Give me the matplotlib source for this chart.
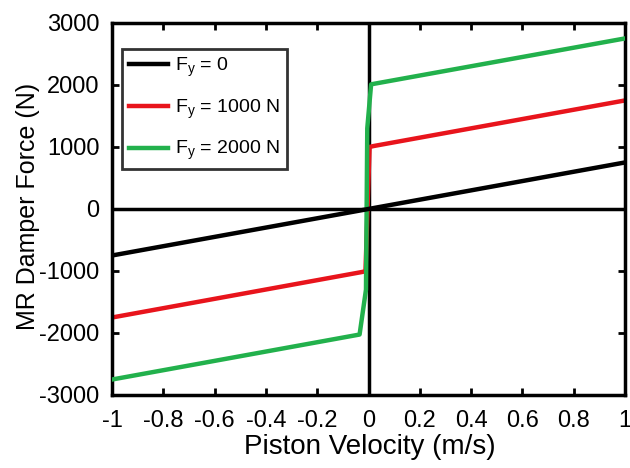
import matplotlib
matplotlib.use("Agg")
import matplotlib.pyplot as plt
import numpy as np

plt.rcParams['font.family'] = ['Liberation Sans', 'DejaVu Sans']
plt.rcParams['mathtext.fontset'] = 'custom'
plt.rcParams['mathtext.rm'] = 'Liberation Sans'
plt.rcParams['mathtext.it'] = 'Liberation Sans'
plt.rcParams['axes.unicode_minus'] = False

# piecewise points (velocity m/s, force N)
v_fy0 = [-1.0, 1.0]
f_fy0 = [-750, 750]

v_fy1000 = [-1.0, -0.03, -0.012, 0.004, 0.02, 1.0]
f_fy1000 = [-1750, -1020, -1005, 1000, 1015, 1750]

v_fy2000 = [-1.0, -0.035, -0.01, -0.005, 0.01, 1.0]
f_fy2000 = [-2750, -2025, -1300, 1300, 2010, 2750]

labels = [r'$\mathregular{F_y}$ = 0', r'$\mathregular{F_y}$ = 1000 N',
          r'$\mathregular{F_y}$ = 2000 N']
colors = ['#000000', '#e8141c', '#22b14c']

xticks = [-1, -0.8, -0.6, -0.4, -0.2, 0, 0.2, 0.4, 0.6, 0.8, 1]
xticklabels = ['-1', '-0.8', '-0.6', '-0.4', '-0.2', '0', '0.2', '0.4', '0.6', '0.8', '1']
yticks = [-3000, -2000, -1000, 0, 1000, 2000, 3000]

fig = plt.figure(figsize=(6.3, 4.68), dpi=100)
ax = fig.add_axes([0.178, 0.156, 0.814, 0.795])

# axis cross lines
ax.axhline(0, color='black', lw=2.5, zorder=1)
ax.axvline(0, color='black', lw=2.5, zorder=1)

ax.plot(v_fy0, f_fy0, color=colors[0], lw=3.2, label=labels[0], zorder=4)
ax.plot(v_fy1000, f_fy1000, color=colors[1], lw=3.2, label=labels[1], zorder=2)
ax.plot(v_fy2000, f_fy2000, color=colors[2], lw=3.2, label=labels[2], zorder=3)

ax.set_xlim(-1, 1)
ax.set_ylim(-3000, 3000)
ax.set_xticks(xticks)
ax.set_xticklabels(xticklabels)
ax.set_yticks(yticks)
ax.tick_params(direction='in', length=5, width=2, top=True, right=True,
               labelsize=17)
ax.tick_params(axis='x', pad=11)
ax.tick_params(axis='y', pad=9)
for s in ax.spines.values():
    s.set_linewidth(2.5)

ax.set_xlabel('Piston Velocity (m/s)', fontsize=20, va='top')
ax.set_ylabel('MR Damper Force (N)', fontsize=18)
ax.xaxis.set_label_coords(0.503, -0.106)
ax.yaxis.set_label_coords(-0.14, 0.508)

leg = ax.legend(loc='upper left', bbox_to_anchor=(0.02, 0.93), fontsize=14,
                frameon=True, fancybox=False, edgecolor='black',
                borderaxespad=0, handlelength=2.0, handletextpad=0.35,
                borderpad=0.35, labelspacing=0.95)
leg.get_frame().set_linewidth(2)

fig.savefig('out.png', dpi=100)
